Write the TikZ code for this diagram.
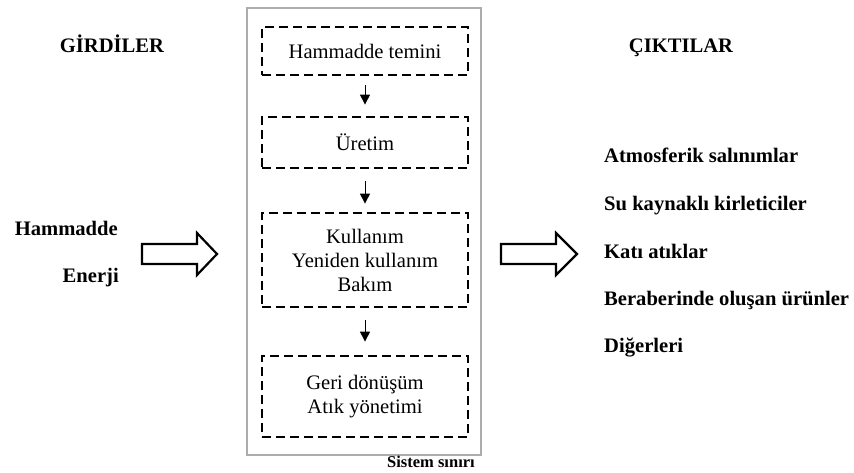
\documentclass[tikz,border=0pt]{standalone}
\usepackage{fontspec}
\setmainfont{Liberation Serif}
\usetikzlibrary{arrows.meta}
\begin{document}
\begin{tikzpicture}[x=1pt,y=-1pt,
  lbl/.style={inner sep=0pt,font=\fontsize{20.6}{24}\selectfont\bfseries},
  stage/.style={draw,line width=2.8pt,dash pattern=on 9pt off 5pt,minimum width=206pt,inner sep=0pt,align=center,font=\fontsize{20.6}{24}\selectfont},
  flow/.style={line width=1pt,-{Triangle[length=10pt,width=10pt]}},
  bigarrow/.style={line width=2.2pt,line join=miter}
]
\useasboundingbox (0,0) rectangle (854,472);
% system boundary
\draw[line width=2pt,color=black!32] (247,8) rectangle (481,455);
\node[inner sep=0pt,anchor=base west,font=\fontsize{16.5}{18}\selectfont\bfseries] (sb) at (387,467) {Sistem sınırı};
% stages
\node[stage,minimum height=48pt] (s1) at (365,51) {Hammadde temini};
\node[stage,minimum height=51pt] (s2) at (365,142.5) {Üretim};
\node[stage,minimum height=94pt] (s3) at (365,260) {Kullanım\\Yeniden kullanım\\Bakım};
\node[stage,minimum height=81pt] (s4) at (365,396.5) {Geri dönüşüm\\Atık yönetimi};
\draw[flow,shorten <=9pt,shorten >=11pt] (s1) -- (s2);
\draw[flow,shorten <=12pt,shorten >=8pt] (s2) -- (s3);
\draw[flow,shorten <=12pt,shorten >=13pt] (s3) -- (s4);
% titles
\node[lbl,anchor=base] (gir) at (112,52) {GİRDİLER};
\node[lbl,anchor=base] (cik) at (681,52) {ÇIKTILAR};
% inputs
\node[lbl,anchor=base east] (in1) at (118,235) {Hammadde};
\node[lbl,anchor=base east] (in2) at (119,282) {Enerji};
% big arrows
\draw[bigarrow] (142,244) -- (197,244) -- (197,233) -- (217,254) -- (197,275) -- (197,264) -- (142,264) -- cycle;
\draw[bigarrow] (501,244) -- (556,244) -- (556,233) -- (577,254) -- (556,275) -- (556,264) -- (501,264) -- cycle;
% outputs
\node[lbl,anchor=base west] (o1) at (604,162) {Atmosferik salınımlar};
\node[lbl,anchor=base west] (o2) at (604,210) {Su kaynaklı kirleticiler};
\node[lbl,anchor=base west] (o3) at (604,258) {Katı atıklar};
\node[lbl,anchor=base west] (o4) at (604,305) {Beraberinde oluşan ürünler};
\node[lbl,anchor=base west] (o5) at (604,352) {Diğerleri};
\end{tikzpicture}
\end{document}
